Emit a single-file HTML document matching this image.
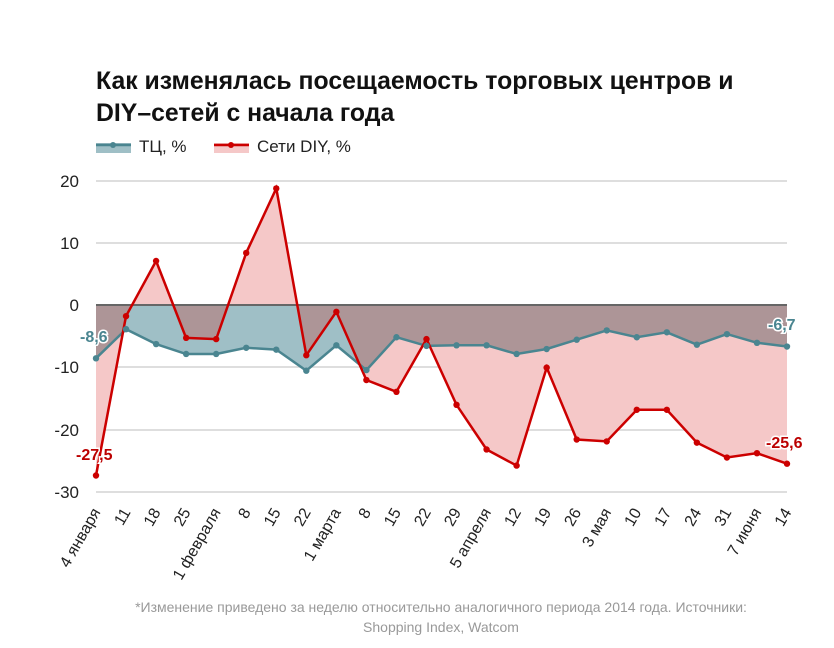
<!DOCTYPE html>
<html><head><meta charset="utf-8"><style>
body{margin:0;background:#fff;width:834px;height:648px;overflow:hidden}
svg{display:block;font-family:"Liberation Sans",sans-serif}
</style></head><body>
<svg id="s" width="834" height="648" viewBox="0 0 834 648">
<text x="96" y="89" font-size="24.8" font-weight="bold" fill="#111">Как изменялась посещаемость торговых центров и</text>
<text x="96" y="121" font-size="24.8" font-weight="bold" fill="#111">DIY–сетей с начала года</text>
<rect x="96" y="143" width="35" height="10" fill="#9fbfc6"/><line x1="96" y1="145" x2="131" y2="145" stroke="#4a8590" stroke-width="2.5"/><circle cx="113" cy="145" r="3" fill="#4a8590"/>
<text x="139" y="152" font-size="17" fill="#222">ТЦ, %</text>
<rect x="214" y="143" width="35" height="10" fill="#f5c8c8"/><line x1="214" y1="145" x2="249" y2="145" stroke="#cc0000" stroke-width="2.5"/><circle cx="231" cy="145" r="3" fill="#cc0000"/>
<text x="257" y="152" font-size="17" fill="#222">Сети DIY, %</text>
<g stroke="#d4d4d4" stroke-width="1.5">
<line x1="96" y1="181" x2="787" y2="181"/><line x1="96" y1="243" x2="787" y2="243"/><line x1="96" y1="367" x2="787" y2="367"/><line x1="96" y1="430" x2="787" y2="430"/><line x1="96" y1="492" x2="787" y2="492"/></g>
<g font-size="17" fill="#222" text-anchor="end">
<text x="79" y="187">20</text><text x="79" y="249">10</text><text x="79" y="311">0</text><text x="79" y="373">-10</text><text x="79" y="436">-20</text><text x="79" y="498">-30</text></g>
<defs><clipPath id="tc"><path id="tcp"/></clipPath></defs>
<path id="pa" fill="#f5c8c8"/>
<path id="ta" fill="#9fbfc6"/>
<path id="ov" fill="#ad9597" clip-path="url(#tc)"/>
<line x1="96" y1="305" x2="787" y2="305" stroke="#666" stroke-width="2"/>
<polyline id="tl" fill="none" stroke="#4a8590" stroke-width="2.5"/>
<polyline id="dl" fill="none" stroke="#cc0000" stroke-width="2.5"/>
<g id="dots"></g>
<g font-size="16" font-weight="bold" stroke="#fff" stroke-width="3" paint-order="stroke">
<text x="80" y="342" fill="#4a8590">-8,6</text>
<text x="76" y="460" fill="#bb0000">-27,5</text>
<text x="768" y="330" fill="#4a8590">-6,7</text>
<text x="766" y="448" fill="#bb0000">-25,6</text></g>
<g id="xl" font-size="16" fill="#222" text-anchor="end"></g>
<text x="441" y="612" font-size="14" fill="#999" text-anchor="middle">*Изменение приведено за неделю относительно аналогичного периода 2014 года. Источники:</text>
<text x="441" y="632" font-size="14" fill="#999" text-anchor="middle">Shopping Index, Watcom</text>
</svg>
<script>
var T=[-8.6,-3.9,-6.3,-7.9,-7.9,-6.9,-7.2,-10.6,-6.5,-10.5,-5.2,-6.6,-6.5,-6.5,-7.9,-7.1,-5.6,-4.1,-5.2,-4.4,-6.4,-4.7,-6.1,-6.7];
var D=[-27.5,-1.8,7.1,-5.3,-5.5,8.4,18.8,-8.1,-1.1,-12.1,-14,-5.5,-16.1,-23.3,-25.9,-10.1,-21.7,-22,-16.9,-16.9,-22.2,-24.6,-23.9,-25.6];
var L=["4 января","11","18","25","1 февраля","8","15","22","1 марта","8","15","22","29","5 апреля","12","19","26","3 мая","10","17","24","31","7 июня","14"];
function X(i){return 96+i*691/23}function Y(v){return 305-v*6.2}
function pts(a){return a.map(function(v,i){return X(i).toFixed(1)+","+Y(v).toFixed(1)}).join(" ")}
function area(a){return "M96,305 L"+pts(a).split(" ").join(" L")+" L787,305Z"}
var ns="http://www.w3.org/2000/svg";
document.getElementById("pa").setAttribute("d",area(D));
document.getElementById("ta").setAttribute("d",area(T));
document.getElementById("tcp").setAttribute("d",area(T));
document.getElementById("ov").setAttribute("d",area(D));
document.getElementById("tl").setAttribute("points",pts(T));
document.getElementById("dl").setAttribute("points",pts(D));
var g=document.getElementById("dots"),xl=document.getElementById("xl");
for(var i=0;i<24;i++){
[[T,"#4a8590"],[D,"#cc0000"]].forEach(function(p){var c=document.createElementNS(ns,"circle");c.setAttribute("cx",X(i));c.setAttribute("cy",Y(p[0][i]));c.setAttribute("r",3.2);c.setAttribute("fill",p[1]);g.appendChild(c);});
var t=document.createElementNS(ns,"text");t.setAttribute("transform","translate("+(X(i)+5)+",512) rotate(-60)");t.textContent=L[i];xl.appendChild(t);}
</script>
</body></html>
